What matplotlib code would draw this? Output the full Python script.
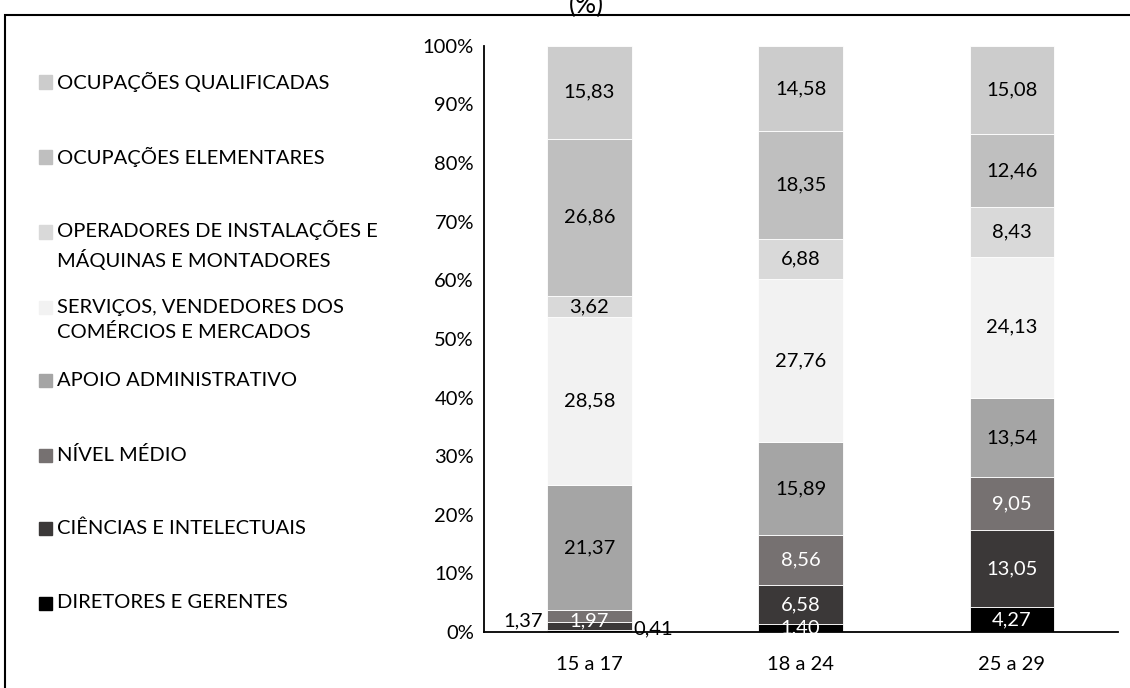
import numpy as np
import matplotlib.pyplot as plt
from matplotlib.patches import Rectangle

plt.rcParams['font.family'] = ['Lato', 'DejaVu Sans']

# Grupos etários e grupos de ocupação (de baixo para cima na pilha)
idades = ['15 a 17', '18 a 24', '25 a 29']
grupos = ['DIRETORES E GERENTES', 'CIÊNCIAS E INTELECTUAIS', 'NÍVEL MÉDIO',
          'APOIO ADMINISTRATIVO', 'SERVIÇOS, VENDEDORES DOS\nCOMÉRCIOS E MERCADOS',
          'OPERADORES DE INSTALAÇÕES E\nMÁQUINAS E MONTADORES',
          'OCUPAÇÕES ELEMENTARES', 'OCUPAÇÕES QUALIFICADAS']

diretores = [0.41, 1.40, 4.27]
ciencias = [1.37, 6.58, 13.05]
nivel_medio = [1.97, 8.56, 9.05]
apoio = [21.37, 15.89, 13.54]
servicos = [28.58, 27.76, 24.13]
operadores = [3.62, 6.88, 8.43]
elementares = [26.86, 18.35, 12.46]
qualificadas = [15.83, 14.58, 15.08]

valores = [diretores, ciencias, nivel_medio, apoio, servicos,
           operadores, elementares, qualificadas]
cores = ['#000000', '#3b3838', '#767171', '#a5a5a5', '#f2f2f2',
         '#d9d9d9', '#bfbfbf', '#cccccc']
cor_texto = ['white', 'white', 'white', 'black', 'black', 'black', 'black', 'black']

FS = 14.5

fig = plt.figure(figsize=(11.3, 6.88), dpi=100)
ax = fig.add_axes([0.428, 0.0814, 0.561, 0.852])

x = np.arange(len(idades))
base = np.zeros(len(idades))
for g, (vals, cor, ct) in enumerate(zip(valores, cores, cor_texto)):
    vals = np.array(vals)
    ax.bar(x, vals, 0.4, bottom=base, color=cor, edgecolor='white', linewidth=0.6)
    for i, v in enumerate(vals):
        txt = f'{v:.2f}'.replace('.', ',')
        y = base[i] + v / 2
        # segmentos muito finos do primeiro grupo: rótulo ao lado da barra
        if i == 0 and g == 0:
            ax.text(x[i] + 0.21, y + 0.3, txt, ha='left', va='center', fontsize=FS, color='black')
        elif i == 0 and g == 1:
            ax.text(x[i] - 0.22, y + 0.8, txt, ha='right', va='center', fontsize=FS, color='black')
        elif i == 0 and g == 2:
            ax.text(x[i], y - 0.9, txt, ha='center', va='center', fontsize=FS, color=ct)
        else:
            ax.text(x[i], y, txt, ha='center', va='center', fontsize=FS, color=ct)
    base += vals

ax.set_xlim(-0.5, 2.5)
ax.set_ylim(0, 100)
ax.set_yticks(np.arange(0, 101, 10))
ax.set_yticklabels([f'{t}%' for t in range(0, 101, 10)])
ax.set_xticks(x)
ax.set_xticklabels(idades)
ax.tick_params(length=0, labelsize=FS, colors='black')
ax.tick_params(axis='y', pad=7)
ax.tick_params(axis='x', pad=17)
for s in ['top', 'right']:
    ax.spines[s].set_visible(False)
ax.spines['left'].set_linewidth(1.3)
ax.spines['bottom'].set_linewidth(1.3)

# legenda manual à esquerda (ordem invertida)
leg_y = [82, 157, 245, 320, 380, 455, 528, 603]
H = 688.0
for nome, cor, yy in zip(grupos[::-1], cores[::-1], leg_y):
    n_linhas = nome.count('\n') + 1
    y_sq = yy - (n_linhas - 1) * 13
    fig.patches.append(Rectangle((39 / 1130, 1 - (y_sq + 6.5) / H), 13 / 1130, 13 / H,
                                 transform=fig.transFigure, color=cor))
    fig.text(57 / 1130, 1 - yy / H, nome, ha='left', va='center', fontsize=FS,
             linespacing=1.45)

# moldura e título
fig.patches.append(Rectangle((5 / 1130, -0.1), 1.2, 1 - 15 / H + 0.1,
                             transform=fig.transFigure, fill=False,
                             edgecolor='black', linewidth=1.5))
fig.text(586 / 1130, 1 - 5 / H, '(%)', ha='center', va='center', fontsize=19)

fig.savefig('out.png', dpi=100)
